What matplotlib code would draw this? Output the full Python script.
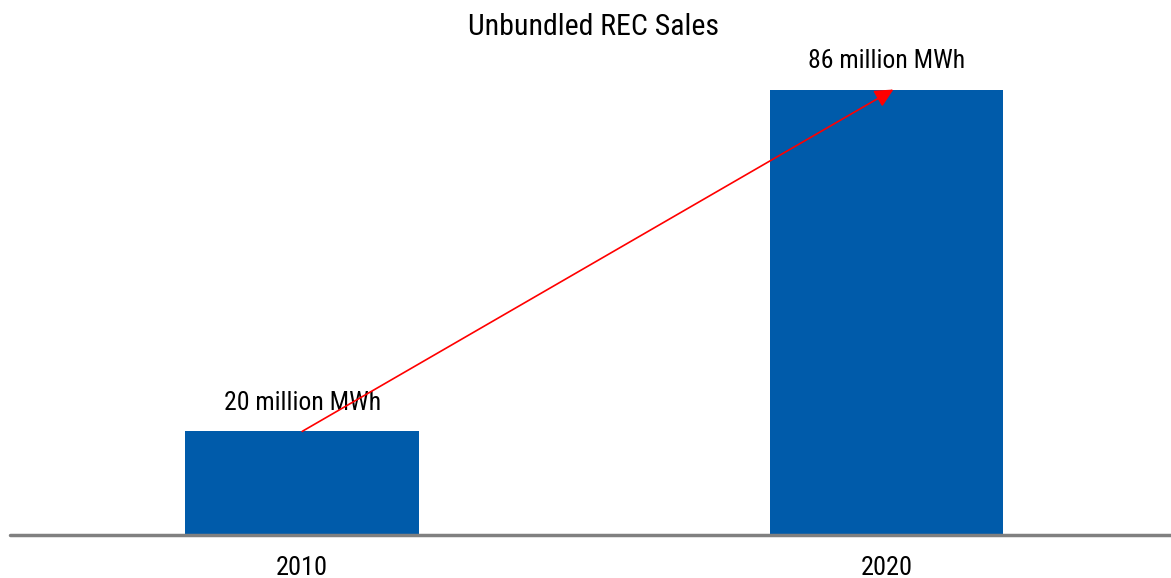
import matplotlib
matplotlib.use('Agg')
import matplotlib.pyplot as plt
from matplotlib import font_manager

# Pick a condensed face if one is around
names = {f.name for f in font_manager.fontManager.ttflist}
family = 'Roboto Condensed' if 'Roboto Condensed' in names else 'Roboto'
plt.rcParams['font.family'] = [family, 'DejaVu Sans']

# Data
years = ['2010', '2020']
sales = [20, 86]                       # million MWh
labels = ['20 million MWh', '86 million MWh']

fig = plt.figure(figsize=(11.71, 5.78), dpi=100)
ax = fig.add_axes([10/1171, 43/578, 1161/1171, 518/578])

xs = list(range(len(years)))
ax.bar(xs, sales, width=0.4, color='#005BAA', zorder=2)

# Value labels above each bar
for x, v, lab in zip(xs, sales, labels):
    ax.text(x, v + 3.2, lab, ha='center', va='bottom', fontsize=18.5)

# Growth arrow from the 2010 bar top to the 2020 bar top
ax.annotate('', xy=(xs[1] + 0.012, sales[1]), xytext=(xs[0], sales[0]),
            arrowprops=dict(arrowstyle='-|>', color='red', lw=1.2,
                            mutation_scale=28, shrinkA=0, shrinkB=0),
            zorder=3)

# Formatting
ax.set_xlim(-0.5, 1.487)
ax.set_ylim(0, 100.0)
ax.set_xticks(xs)
ax.set_xticklabels(years, fontsize=19)
ax.tick_params(axis='x', length=0, pad=15)
ax.set_yticks([])
for s in ['top', 'right', 'left']:
    ax.spines[s].set_visible(False)
ax.spines['bottom'].set_color('#808080')
ax.spines['bottom'].set_linewidth(2.5)
ax.spines['bottom'].set_capstyle('round')

fig.text(594/1171, 1 - 27/578, 'Unbundled REC Sales', ha='center',
         va='center', fontsize=21.5)

plt.savefig('out.png', dpi=100)
